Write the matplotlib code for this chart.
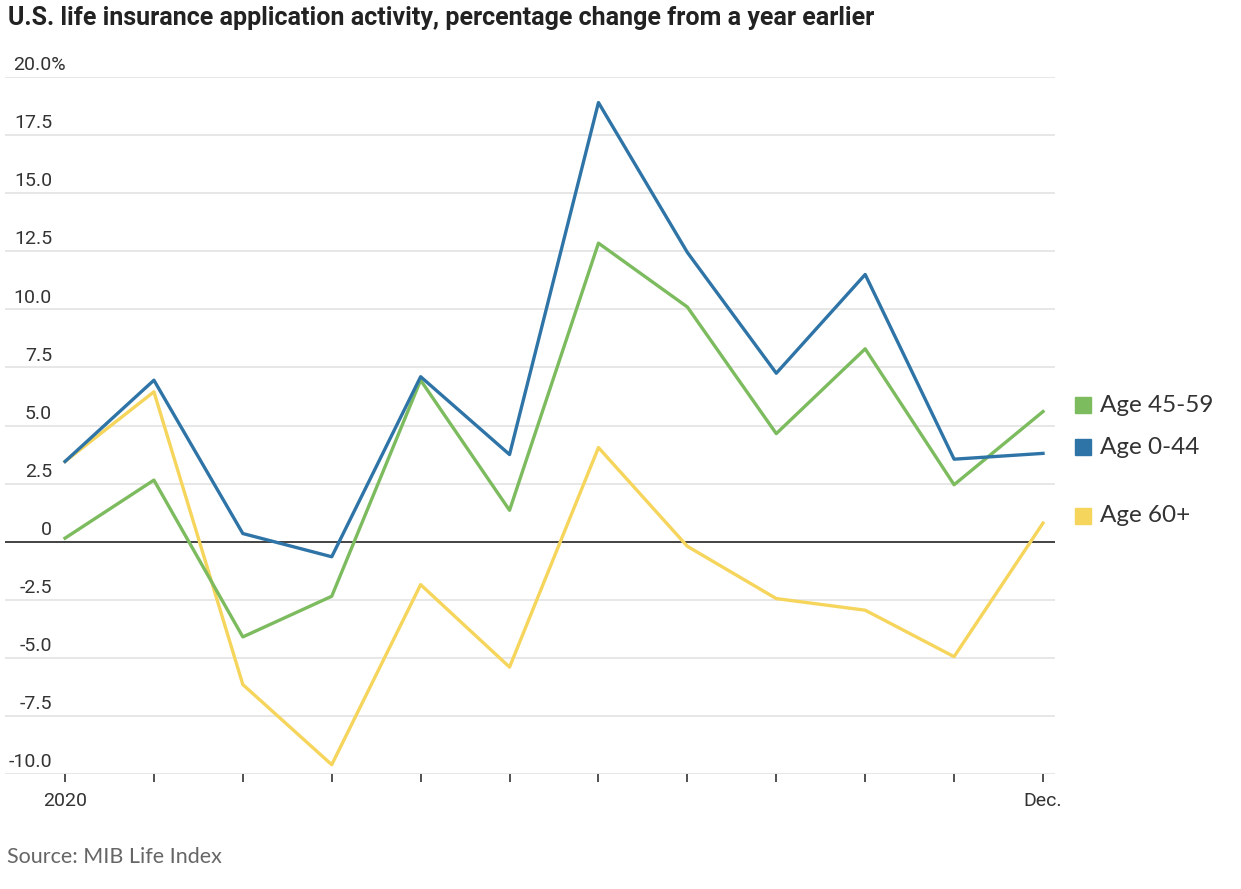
import matplotlib
matplotlib.use('Agg')
import matplotlib.pyplot as plt
import numpy as np

# monthly values, Jan..Dec 2020
months = list(range(12))
tick_labels = ['2020', '', '', '', '', '', '', '', '', '', '', 'Dec.']
age_0_44 = [3.45, 6.95, 0.35, -0.65, 7.1, 3.75, 18.9, 12.45, 7.25, 11.5, 3.55, 3.8]
age_45_59 = [0.15, 2.65, -4.1, -2.35, 6.95, 1.35, 12.85, 10.1, 4.65, 8.3, 2.45, 5.6]
age_60 = [3.45, 6.45, -6.15, -9.6, -1.85, -5.4, 4.05, -0.2, -2.45, -2.95, -4.95, 0.8]
yticks = [-10, -7.5, -5, -2.5, 0, 2.5, 5, 7.5, 10, 12.5, 15, 17.5, 20]
ytick_labels = ['-10.0', '-7.5', '-5.0', '-2.5', '0', '2.5', '5.0', '7.5', '10.0', '12.5', '15.0', '17.5', '20.0%']

green = '#7dbb5f'
blue = '#2f74a7'
yellow = '#f6d55c'
txt = '#333333'
font = ['Roboto', 'DejaVu Sans']

W, H = 1241, 889
fig = plt.figure(figsize=(W / 100, H / 100), dpi=100)
ax = fig.add_axes([5 / W, (H - 774) / H, 1050 / W, 697 / H])

ax.set_xlim(-0.675, 11.135)
ax.set_ylim(-10, 20)

for y in yticks:
    if y == 0:
        ax.axhline(0, color='#222222', lw=1.2, zorder=3)
    else:
        ax.axhline(y, color='#e3e3e3', lw=1.2, zorder=1)

ax.plot(months, age_60, color=yellow, lw=2.4, zorder=4)
ax.plot(months, age_45_59, color=green, lw=2.4, zorder=5)
ax.plot(months, age_0_44, color=blue, lw=2.4, zorder=6)

for s in ax.spines.values():
    s.set_visible(False)
ax.set_yticks([])
ax.set_xticks(months)
ax.set_xticklabels(tick_labels, fontsize=14, color=txt, family=font)
ax.tick_params(axis='x', length=6, width=1.2, color='#333333', pad=7)

# y labels sit above the gridlines on the left
trans = ax.get_yaxis_transform()
for y, lab in zip(yticks, ytick_labels):
    if lab.endswith('%'):
        ax.text(8 / 1050, y + 0.12, lab, transform=trans, ha='left', va='bottom',
                fontsize=14, color=txt, family=font)
    else:
        ax.text(47 / 1050, y + 0.12, lab, transform=trans, ha='right', va='bottom',
                fontsize=14, color=txt, family=font)

fig.text(8 / W, 1 - 18 / H, 'U.S. life insurance application activity, percentage change from a year earlier',
         ha='left', va='center', fontsize=18, fontweight='bold', color='#222222', family=font)
fig.text(7 / W, 1 - 857 / H, 'Source: MIB Life Index', ha='left', va='center',
         fontsize=15.5, color='#666666', family=['Lato', 'DejaVu Sans'])

# legend labels next to the line ends
legend = [('Age 45-59', green, 405), ('Age 0-44', blue, 447), ('Age 60+', yellow, 516)]
for lab, col, yp in legend:
    fig.patches.append(plt.Rectangle((1075 / W, 1 - (yp + 8) / H), 16 / W, 16 / H,
                                     transform=fig.transFigure, color=col, figure=fig))
    fig.text(1100 / W, 1 - yp / H, lab, ha='left', va='center', fontsize=17.5, color=txt,
             family=['Lato', 'DejaVu Sans'])

fig.savefig('out.png', dpi=100)
